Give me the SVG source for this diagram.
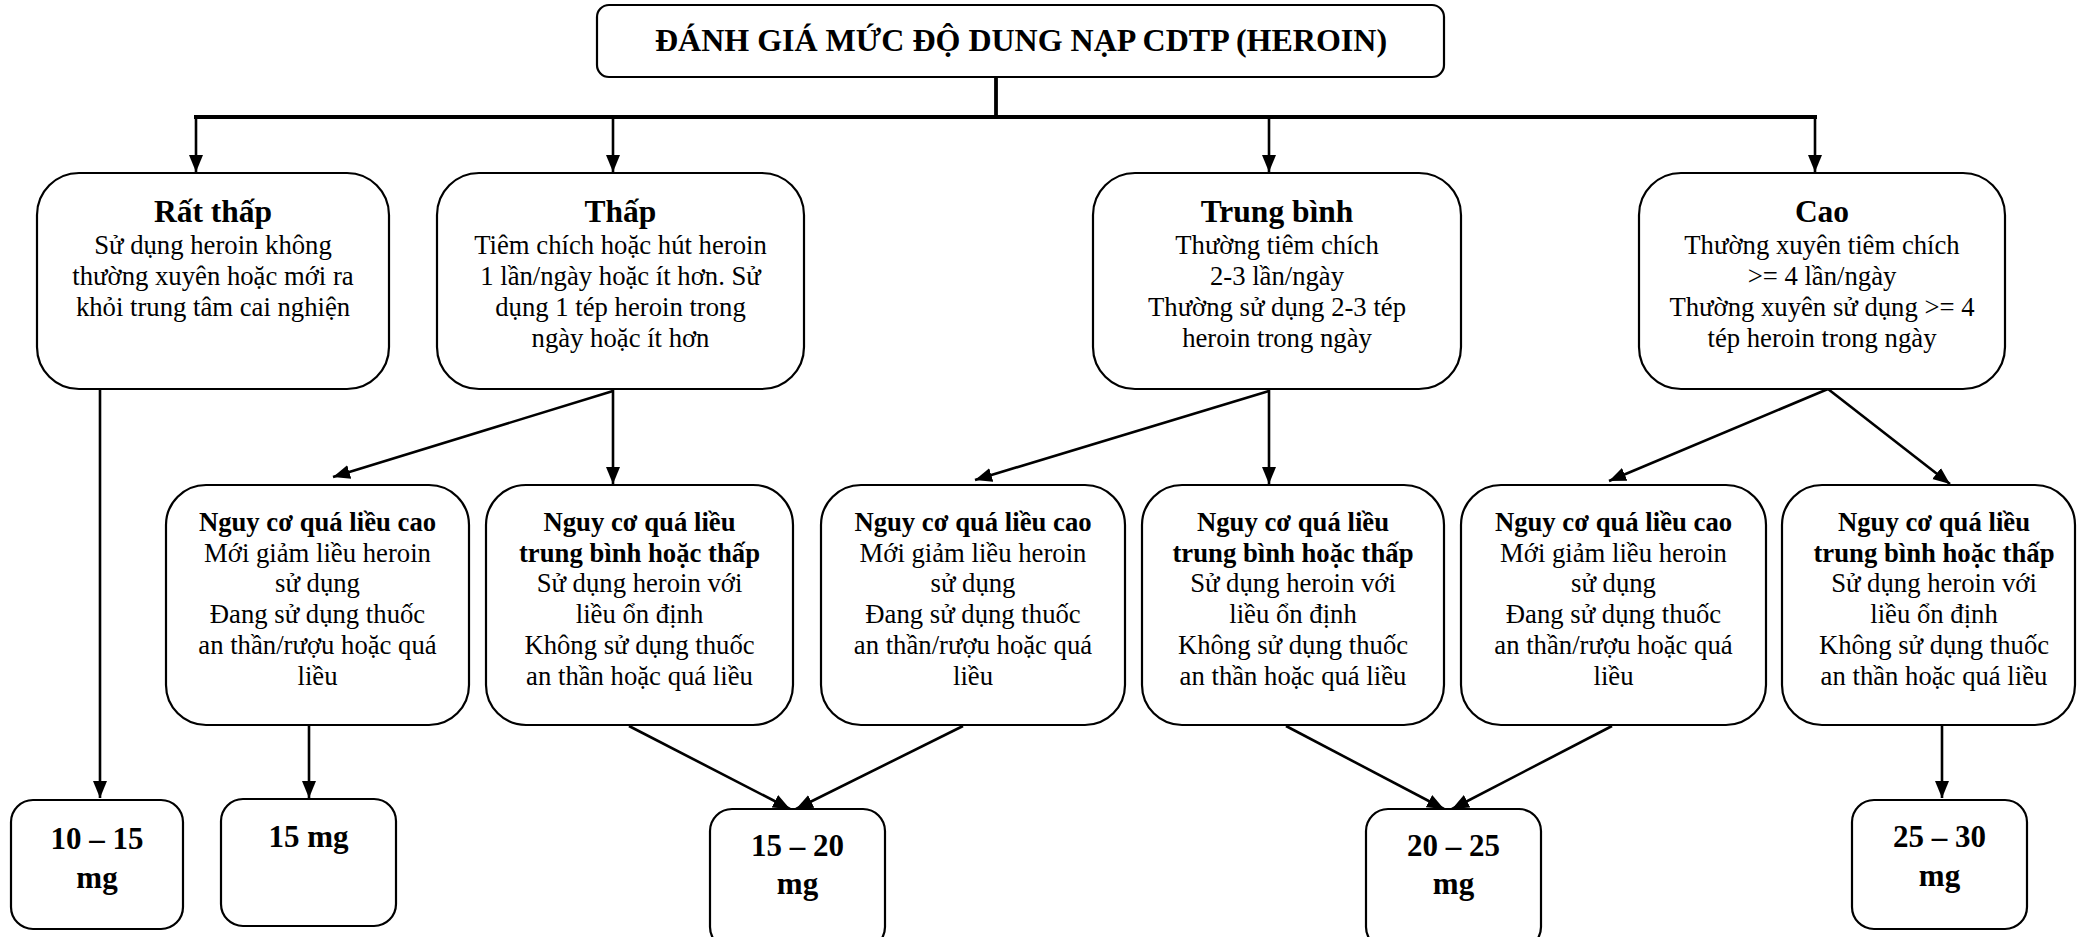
<svg xmlns="http://www.w3.org/2000/svg" width="2077" height="937" viewBox="0 0 2077 937">
<style>
.box{fill:#fff;stroke:#000;stroke-width:2.2}
text{font-family:"Liberation Serif","Times New Roman",serif;fill:#000;text-anchor:middle}
.h1{font-size:32px;font-weight:bold}
.h{font-size:31.5px;font-weight:bold}
.hb{font-size:26.7px;font-weight:bold}
.b{font-size:26.7px}
.mg{font-size:31px;font-weight:bold}
.c{stroke:#000;stroke-width:2.6;fill:none}
.bus{stroke:#000;stroke-width:3.8;fill:none}
</style>
<defs>
<marker id="ah" markerUnits="userSpaceOnUse" markerWidth="18" markerHeight="16" refX="17" refY="8" orient="auto">
<path d="M0,1 L17,8 L0,15 z" fill="#000"/>
</marker>
</defs>
<rect width="2077" height="937" fill="#fff"/>

<g id="connectors">
<line class="bus" x1="996" y1="77" x2="996" y2="117"/>
<line class="bus" x1="194" y1="117" x2="1817" y2="117"/>
<line class="c" x1="196" y1="117" x2="196" y2="172" marker-end="url(#ah)"/>
<line class="c" x1="613" y1="117" x2="613" y2="172" marker-end="url(#ah)"/>
<line class="c" x1="1269" y1="117" x2="1269" y2="172" marker-end="url(#ah)"/>
<line class="c" x1="1815" y1="117" x2="1815" y2="172" marker-end="url(#ah)"/>
<line class="c" x1="100" y1="389" x2="100" y2="798" marker-end="url(#ah)"/>
<line class="c" x1="613" y1="391" x2="333" y2="477" marker-end="url(#ah)"/>
<line class="c" x1="613" y1="389" x2="613" y2="484" marker-end="url(#ah)"/>
<line class="c" x1="1269" y1="391" x2="975" y2="480" marker-end="url(#ah)"/>
<line class="c" x1="1269" y1="389" x2="1269" y2="484" marker-end="url(#ah)"/>
<line class="c" x1="1828" y1="389" x2="1609" y2="481" marker-end="url(#ah)"/>
<line class="c" x1="1828" y1="389" x2="1950" y2="484" marker-end="url(#ah)"/>
<line class="c" x1="309" y1="725" x2="309" y2="798" marker-end="url(#ah)"/>
<line class="c" x1="629" y1="726" x2="790" y2="809" marker-end="url(#ah)"/>
<line class="c" x1="963" y1="726" x2="796" y2="809" marker-end="url(#ah)"/>
<line class="c" x1="1286" y1="726" x2="1444" y2="809" marker-end="url(#ah)"/>
<line class="c" x1="1612" y1="726" x2="1452" y2="809" marker-end="url(#ah)"/>
<line class="c" x1="1942" y1="725" x2="1942" y2="798" marker-end="url(#ah)"/>
</g>

<g id="title">
<rect class="box" x="597" y="5" width="847" height="72" rx="12"/>
<text class="h1" x="1021" y="51">ĐÁNH GIÁ MỨC ĐỘ DUNG NẠP CDTP (HEROIN)</text>
</g>

<g id="rat-thap">
<rect class="box" x="37" y="173" width="352" height="216" rx="42"/>
<text class="h" x="213" y="222">Rất thấp</text>
<text class="b" x="213" y="254">Sử dụng heroin không</text>
<text class="b" x="213" y="285">thường xuyên hoặc mới ra</text>
<text class="b" x="213" y="316">khỏi trung tâm cai nghiện</text>
</g>

<g id="thap">
<rect class="box" x="437" y="173" width="367" height="216" rx="42"/>
<text class="h" x="620.5" y="222">Thấp</text>
<text class="b" x="620.5" y="254">Tiêm chích hoặc hút heroin</text>
<text class="b" x="620.5" y="285">1 lần/ngày hoặc ít hơn. Sử</text>
<text class="b" x="620.5" y="316">dụng 1 tép heroin trong</text>
<text class="b" x="620.5" y="347">ngày hoặc ít hơn</text>
</g>

<g id="trung-binh">
<rect class="box" x="1093" y="173" width="368" height="216" rx="42"/>
<text class="h" x="1277" y="222">Trung bình</text>
<text class="b" x="1277" y="254">Thường tiêm chích</text>
<text class="b" x="1277" y="285">2-3 lần/ngày</text>
<text class="b" x="1277" y="316">Thường sử dụng 2-3 tép</text>
<text class="b" x="1277" y="347">heroin trong ngày</text>
</g>

<g id="cao">
<rect class="box" x="1639" y="173" width="366" height="216" rx="42"/>
<text class="h" x="1822" y="222">Cao</text>
<text class="b" x="1822" y="254">Thường xuyên tiêm chích</text>
<text class="b" x="1822" y="285">&gt;= 4 lần/ngày</text>
<text class="b" x="1822" y="316">Thường xuyên sử dụng &gt;= 4</text>
<text class="b" x="1822" y="347">tép heroin trong ngày</text>
</g>

<g id="thap-cao">
<rect class="box" x="166" y="485" width="303" height="240" rx="40"/>
<text class="hb" x="317.5" y="531">Nguy cơ quá liều cao</text>
<text class="b" x="317.5" y="562">Mới giảm liều heroin</text>
<text class="b" x="317.5" y="592">sử dụng</text>
<text class="b" x="317.5" y="623">Đang sử dụng thuốc</text>
<text class="b" x="317.5" y="654">an thần/rượu hoặc quá</text>
<text class="b" x="317.5" y="685">liều</text>
</g>

<g id="thap-tb">
<rect class="box" x="486" y="485" width="307" height="240" rx="40"/>
<text class="hb" x="639.5" y="531">Nguy cơ quá liều</text>
<text class="hb" x="639.5" y="562">trung bình hoặc thấp</text>
<text class="b" x="639.5" y="592">Sử dụng heroin với</text>
<text class="b" x="639.5" y="623">liều ổn định</text>
<text class="b" x="639.5" y="654">Không sử dụng thuốc</text>
<text class="b" x="639.5" y="685">an thần hoặc quá liều</text>
</g>

<g id="tb-cao">
<rect class="box" x="821" y="485" width="304" height="240" rx="40"/>
<text class="hb" x="973" y="531">Nguy cơ quá liều cao</text>
<text class="b" x="973" y="562">Mới giảm liều heroin</text>
<text class="b" x="973" y="592">sử dụng</text>
<text class="b" x="973" y="623">Đang sử dụng thuốc</text>
<text class="b" x="973" y="654">an thần/rượu hoặc quá</text>
<text class="b" x="973" y="685">liều</text>
</g>

<g id="tb-tb">
<rect class="box" x="1142" y="485" width="302" height="240" rx="40"/>
<text class="hb" x="1293" y="531">Nguy cơ quá liều</text>
<text class="hb" x="1293" y="562">trung bình hoặc thấp</text>
<text class="b" x="1293" y="592">Sử dụng heroin với</text>
<text class="b" x="1293" y="623">liều ổn định</text>
<text class="b" x="1293" y="654">Không sử dụng thuốc</text>
<text class="b" x="1293" y="685">an thần hoặc quá liều</text>
</g>

<g id="cao-cao">
<rect class="box" x="1461" y="485" width="305" height="240" rx="40"/>
<text class="hb" x="1613.5" y="531">Nguy cơ quá liều cao</text>
<text class="b" x="1613.5" y="562">Mới giảm liều heroin</text>
<text class="b" x="1613.5" y="592">sử dụng</text>
<text class="b" x="1613.5" y="623">Đang sử dụng thuốc</text>
<text class="b" x="1613.5" y="654">an thần/rượu hoặc quá</text>
<text class="b" x="1613.5" y="685">liều</text>
</g>

<g id="cao-tb">
<rect class="box" x="1782" y="485" width="293" height="240" rx="40"/>
<text class="hb" x="1934" y="531">Nguy cơ quá liều</text>
<text class="hb" x="1934" y="562">trung bình hoặc thấp</text>
<text class="b" x="1934" y="592">Sử dụng heroin với</text>
<text class="b" x="1934" y="623">liều ổn định</text>
<text class="b" x="1934" y="654">Không sử dụng thuốc</text>
<text class="b" x="1934" y="685">an thần hoặc quá liều</text>
</g>

<g id="dose-10-15">
<rect class="box" x="11" y="800" width="172" height="129" rx="22"/>
<text class="mg" x="97" y="849">10 – 15</text>
<text class="mg" x="97" y="888">mg</text>
</g>

<g id="dose-15">
<rect class="box" x="221" y="799" width="175" height="127" rx="22"/>
<text class="mg" x="308.5" y="847">15 mg</text>
</g>

<g id="dose-15-20">
<rect class="box" x="710" y="809" width="175" height="140" rx="22"/>
<text class="mg" x="797.5" y="856">15 – 20</text>
<text class="mg" x="797.5" y="894">mg</text>
</g>

<g id="dose-20-25">
<rect class="box" x="1366" y="809" width="175" height="140" rx="22"/>
<text class="mg" x="1453.5" y="856">20 – 25</text>
<text class="mg" x="1453.5" y="894">mg</text>
</g>

<g id="dose-25-30">
<rect class="box" x="1852" y="800" width="175" height="129" rx="22"/>
<text class="mg" x="1939.5" y="847">25 – 30</text>
<text class="mg" x="1939.5" y="886">mg</text>
</g>
</svg>
